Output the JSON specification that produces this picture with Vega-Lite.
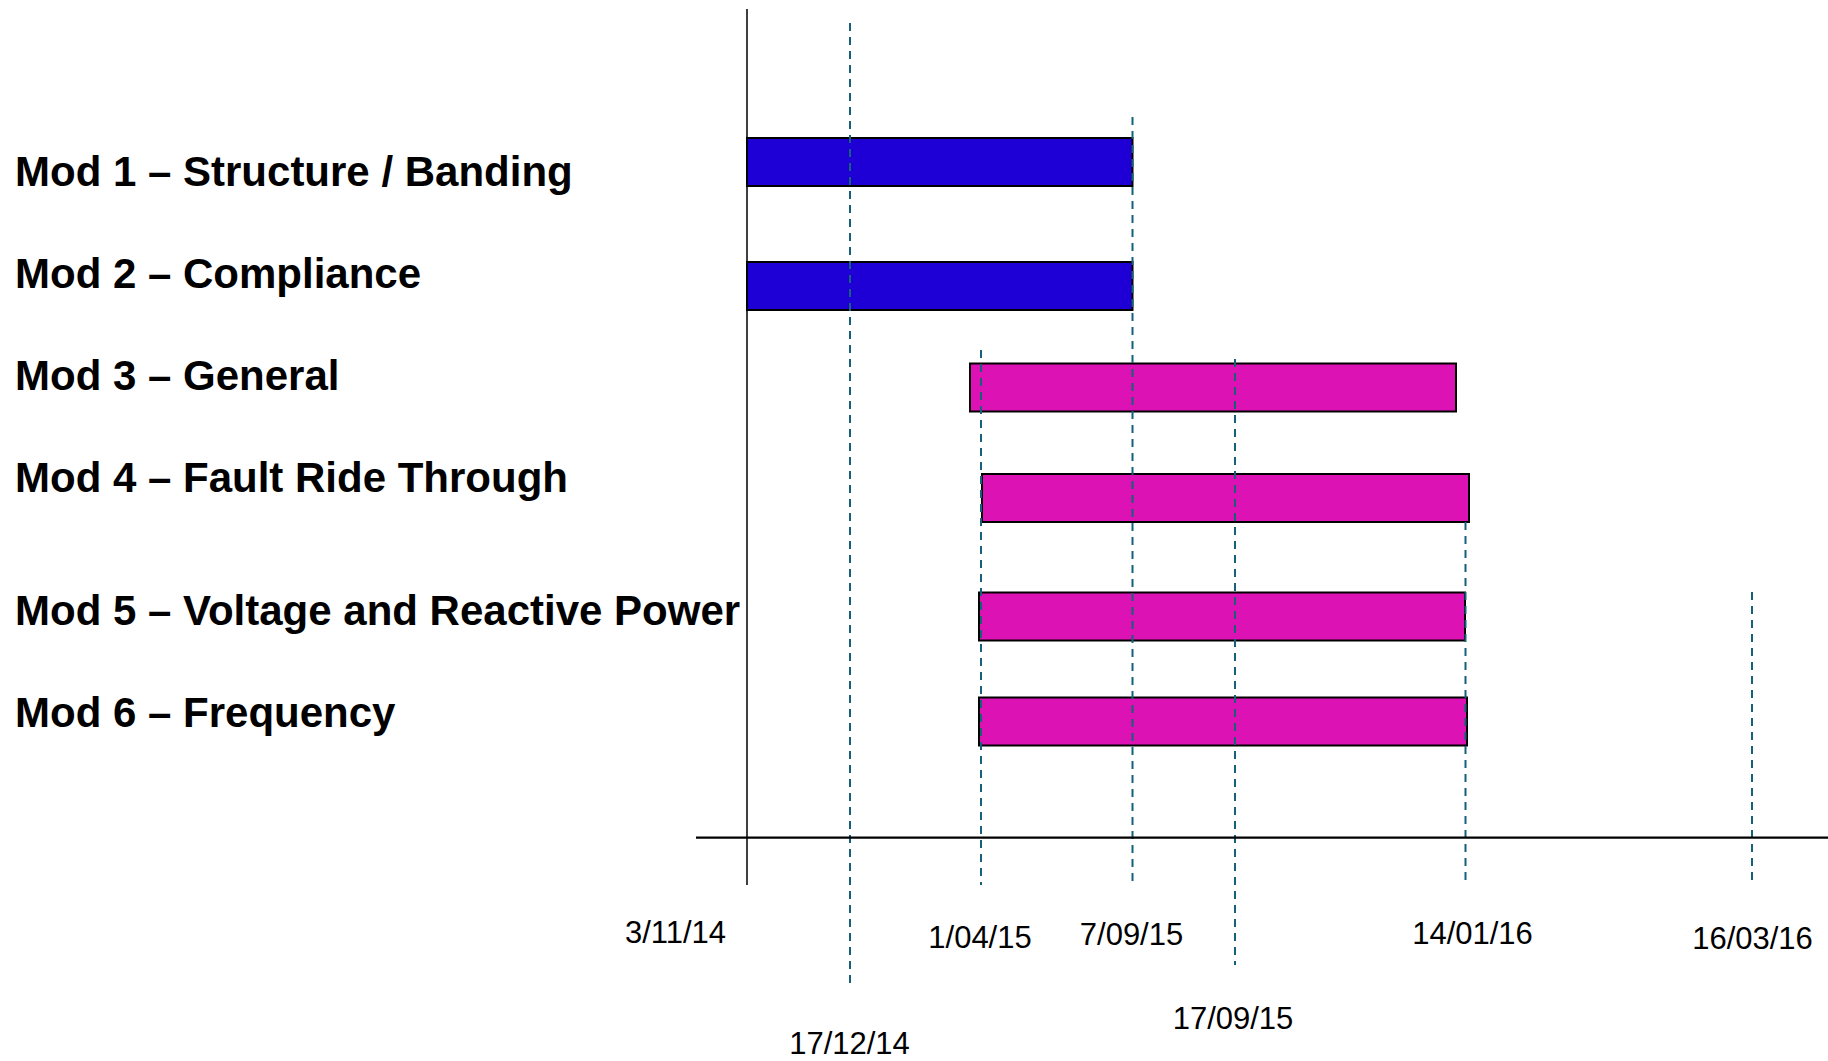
{
  "$schema": "https://vega.github.io/schema/vega-lite/v6.json",
  "width": 1828,
  "height": 1061,
  "padding": 0,
  "autosize": {"type": "none"},
  "background": "white",
  "config": {"view": {"stroke": null}, "font": "Liberation Sans"},
  "datasets": {
    "modules": [
      {"module": "Mod 1 – Structure / Banding", "phase": "A", "start": 0, "end": 38.55, "lane": 0.95, "label_lane": 1.165},
      {"module": "Mod 2 – Compliance", "phase": "A", "start": 0, "end": 38.55, "lane": 2.06, "label_lane": 2.083},
      {"module": "Mod 3 – General", "phase": "B", "start": 22.3, "end": 70.9, "lane": 2.97, "label_lane": 2.992},
      {"module": "Mod 4 – Fault Ride Through", "phase": "B", "start": 23.5, "end": 72.2, "lane": 3.96, "label_lane": 3.905},
      {"module": "Mod 5 – Voltage and Reactive Power", "phase": "B", "start": 23.2, "end": 71.8, "lane": 5.02, "label_lane": 5.096},
      {"module": "Mod 6 – Frequency", "phase": "B", "start": 23.2, "end": 72.0, "lane": 5.96, "label_lane": 6.01}
    ],
    "milestones": [
      {"date": "3/11/14", "pos": 0, "top": -0.419, "bottom": 7.424, "label_x": -7.15, "label_lane": 7.944},
      {"date": "17/12/14", "pos": 10.3, "top": -0.294, "bottom": 8.302, "label_x": 10.25, "label_lane": 8.94},
      {"date": "1/04/15", "pos": 23.4, "top": 2.634, "bottom": 7.424, "label_x": 23.3, "label_lane": 7.989},
      {"date": "7/09/15", "pos": 38.55, "top": 0.548, "bottom": 7.397, "label_x": 38.45, "label_lane": 7.962},
      {"date": "17/09/15", "pos": 48.8, "top": 2.715, "bottom": 8.141, "label_x": 48.6, "label_lane": 8.714},
      {"date": "14/01/16", "pos": 71.85, "top": 4.174, "bottom": 7.424, "label_x": 72.55, "label_lane": 7.953},
      {"date": "16/03/16", "pos": 100.5, "top": 4.801, "bottom": 7.38, "label_x": 100.55, "label_lane": 7.998}
    ]
  },
  "resolve": {"scale": {"x": "shared", "y": "shared"}},
  "layer": [
    {
      "data": {"name": "modules"},
      "mark": {"type": "bar", "height": 48, "stroke": "black", "strokeWidth": 2},
      "encoding": {
        "x": {"field": "start", "type": "quantitative", "axis": null, "scale": {"domain": [-74.7, 108.1], "nice": false, "zero": false, "padding": 0}},
        "x2": {"field": "end"},
        "y": {"field": "lane", "type": "quantitative", "axis": null, "scale": {"domain": [-0.5, 9], "nice": false, "zero": false, "reverse": true, "padding": 0}},
        "color": {"field": "phase", "type": "nominal", "legend": null, "scale": {"domain": ["A", "B"], "range": ["#1E00D6", "#DC12B4"]}}
      }
    },
    {
      "data": {"name": "modules"},
      "mark": {"type": "text", "align": "left", "baseline": "alphabetic", "fontSize": 42, "fontWeight": "bold", "font": "Liberation Sans", "color": "black"},
      "encoding": {
        "x": {"datum": -73.2, "type": "quantitative"},
        "y": {"field": "label_lane", "type": "quantitative"},
        "text": {"field": "module"}
      }
    },
    {
      "data": {"name": "milestones"},
      "mark": {"type": "rule"},
      "encoding": {
        "x": {"field": "pos", "type": "quantitative"},
        "y": {"field": "top", "type": "quantitative"},
        "y2": {"field": "bottom"},
        "color": {"condition": {"test": "datum.date === '3/11/14'", "value": "black"}, "value": "#16607A"},
        "strokeDash": {"condition": {"test": "datum.date === '3/11/14'", "value": [1, 0]}, "value": [8, 6]},
        "strokeWidth": {"condition": {"test": "datum.date === '3/11/14'", "value": 1.5}, "value": 2}
      }
    },
    {
      "data": {"values": [{}]},
      "mark": {"type": "rule", "color": "black", "strokeWidth": 2.2},
      "encoding": {
        "x": {"datum": -5.1, "type": "quantitative"},
        "x2": {"datum": 108.1},
        "y": {"datum": 7.0, "type": "quantitative"}
      }
    },
    {
      "data": {"name": "milestones"},
      "mark": {"type": "text", "align": "center", "baseline": "alphabetic", "fontSize": 31, "font": "Liberation Sans", "color": "black"},
      "encoding": {
        "x": {"field": "label_x", "type": "quantitative"},
        "y": {"field": "label_lane", "type": "quantitative"},
        "text": {"field": "date"}
      }
    }
  ]
}
